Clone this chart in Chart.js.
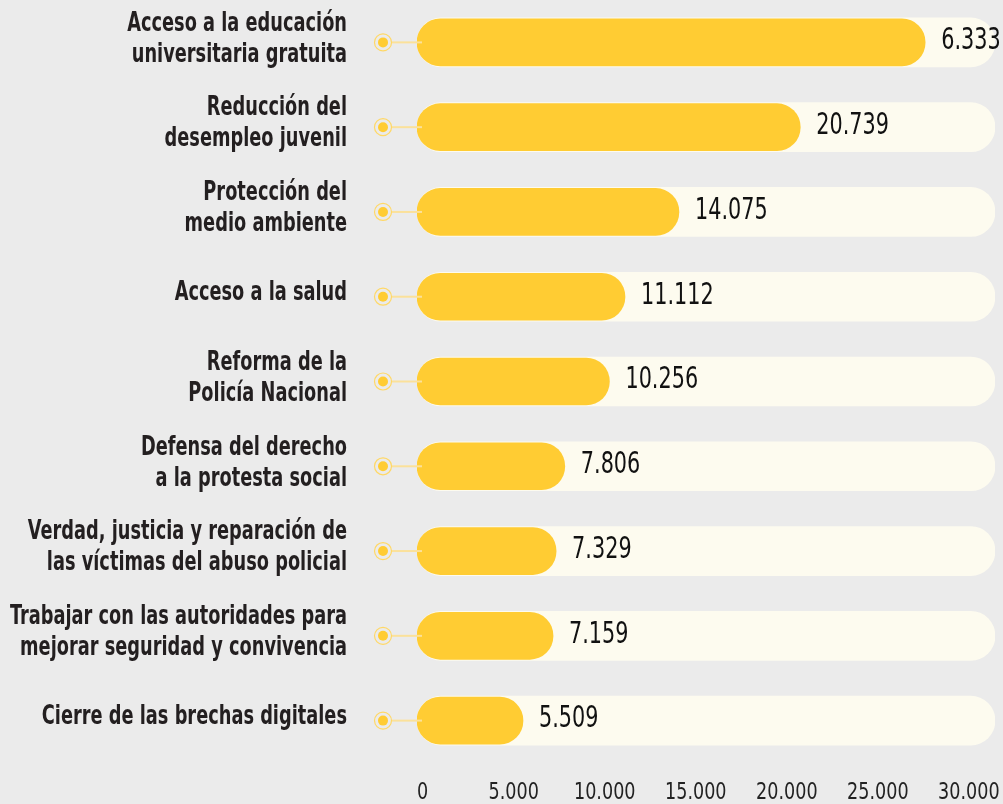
<!DOCTYPE html>
<html>
<head>
<meta charset="utf-8">
<script src="https://cdn.jsdelivr.net/npm/chart.js@4.4.1/dist/chart.umd.min.js"></script>
<style>
  html, body { margin: 0; padding: 0; background: #ebebeb; }
  #wrap { width: 1003px; height: 804px; position: relative; }
</style>
</head>
<body>
<div id="wrap"><canvas id="barChart" width="1003" height="804"></canvas></div>
<script>
'use strict';

// temas y votos
var categories = [
  ['Acceso a la educación', 'universitaria gratuita'],
  ['Reducción del', 'desempleo juvenil'],
  ['Protección del', 'medio ambiente'],
  ['Acceso a la salud'],
  ['Reforma de la', 'Policía Nacional'],
  ['Defensa del derecho', 'a la protesta social'],
  ['Verdad, justicia y reparación de', 'las víctimas del abuso policial'],
  ['Trabajar con las autoridades para', 'mejorar seguridad y convivencia'],
  ['Cierre de las brechas digitales']
];
var votes = [27600, 20739, 14075, 11112, 10256, 7806, 7329, 7159, 5509];
var voteLabels = ['6.333', '20.739', '14.075', '11.112', '10.256', '7.806', '7.329', '7.159', '5.509'];
var tickValues = [0, 5000, 10000, 15000, 20000, 25000, 30000];
var tickLabels = ['0', '5.000', '10.000', '15.000', '20.000', '25.000', '30.000'];

var xMin = -313;
var xMax = 31436;

var yellow = '#ffcc33';
var track = '#fdfbef';
var condensed = '"DejaVu Sans Condensed", "DejaVu Sans", sans-serif';

// la fuente original es mas angosta, asi que se aplasta el texto a lo ancho
function squishText(ctx, text, x, y, sx, align) {
  ctx.save();
  ctx.translate(x, y);
  ctx.scale(sx, 1);
  ctx.textAlign = align;
  ctx.fillText(text, 0, 0);
  ctx.restore();
}

// etiquetas, circulito + linea a la izquierda de cada barra, y el numero al final
var decorations = {
  id: 'decorations',
  afterDatasetsDraw: function (chart) {
    var ctx = chart.ctx;
    var meta = chart.getDatasetMeta(1);
    var left = chart.chartArea.left;
    var xScale = chart.scales.x;
    ctx.save();
    ctx.textBaseline = 'middle';

    meta.data.forEach(function (bar, i) {
      var y = bar.y;
      var cx = left - 34;
      ctx.strokeStyle = '#fbe19a';
      ctx.lineWidth = 2;
      ctx.beginPath();
      ctx.moveTo(cx + 9, y);
      ctx.lineTo(left + 5, y);
      ctx.stroke();

      ctx.strokeStyle = '#ffd866';
      ctx.lineWidth = 1.2;
      ctx.beginPath();
      ctx.arc(cx, y, 8.5, 0, Math.PI * 2);
      ctx.stroke();
      ctx.fillStyle = yellow;
      ctx.beginPath();
      ctx.arc(cx, y, 5, 0, Math.PI * 2);
      ctx.fill();

      // numero
      ctx.fillStyle = '#111';
      ctx.font = '30px ' + condensed;
      squishText(ctx, voteLabels[i], bar.x + 16, y - 1, 0.77, 'left');

      // nombre del tema
      var lines = categories[i];
      var lh = 31;
      var y0 = y - 3 - (lines.length - 1) * lh / 2;
      ctx.fillStyle = '#231f20';
      ctx.font = 'bold 26px ' + condensed;
      lines.forEach(function (line, k) {
        squishText(ctx, line, left - 70, y0 + k * lh, 0.76, 'right');
      });
    });

    // etiquetas del eje x
    ctx.fillStyle = '#222';
    ctx.font = '23px ' + condensed;
    tickValues.forEach(function (v, i) {
      squishText(ctx, tickLabels[i], xScale.getPixelForValue(v), 793, 0.85, 'center');
    });
    ctx.restore();
  }
};

var ctx = document.getElementById('barChart');

var myBarChart = new Chart(ctx, {
  type: 'bar',
  data: {
    labels: categories,
    datasets: [
      {
        // fondo claro de cada fila
        data: categories.map(function () { return [xMin, xMax]; }),
        backgroundColor: track,
        barThickness: 49,
        borderRadius: 25,
        borderSkipped: false,
        order: 2
      },
      {
        data: votes.map(function (v) { return [xMin, v]; }),
        backgroundColor: yellow,
        barThickness: 47,
        borderRadius: 24,
        borderSkipped: false,
        order: 1
      }
    ]
  },
  options: {
    indexAxis: 'y',
    responsive: false,
    animation: false,
    grouped: false,
    layout: { padding: { right: 8 } },
    plugins: {
      legend: { display: false },
      tooltip: { enabled: false }
    },
    scales: {
      x: {
        min: xMin,
        max: xMax,
        grid: { display: false },
        border: { display: false },
        afterBuildTicks: function (axis) {
          axis.ticks = tickValues.map(function (v) { return { value: v }; });
        },
        afterFit: function (axis) { axis.height = 41; },
        ticks: { display: false }
      },
      y: {
        grid: { display: false },
        border: { display: false },
        afterFit: function (axis) { axis.width = 417; },
        ticks: { display: false }
      }
    }
  },
  plugins: [decorations]
});
</script>
</body>
</html>
